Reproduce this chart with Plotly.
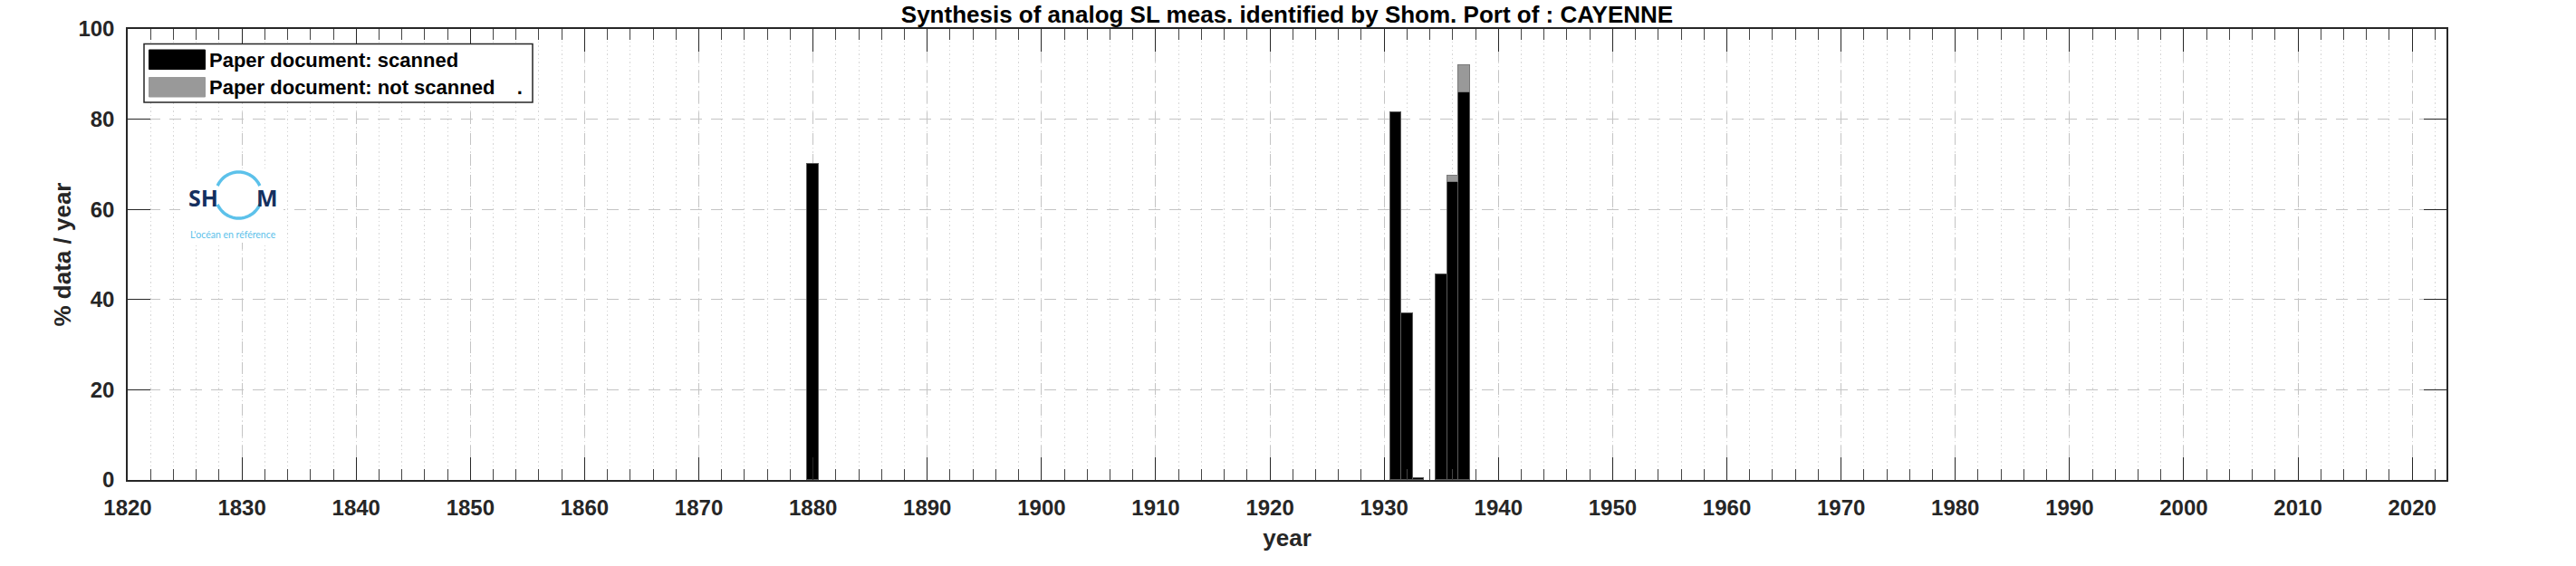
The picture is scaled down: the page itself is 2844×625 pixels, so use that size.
import numpy as np
import plotly.graph_objects as go

# ---------------- data ----------------
years = [1880, 1931, 1932, 1933, 1935, 1936, 1937]
scanned_pct = [70, 81.5, 37, 0.4, 45.5, 66, 86]
not_scanned_pct = [0, 0, 0, 0, 0, 1.5, 6]
x_tick_vals = list(range(1820, 2021, 10))
y_tick_vals = [0, 20, 40, 60, 80, 100]
series_names = ["Paper document: scanned", "Paper document: not scanned"]
title_text = "Synthesis of analog SL meas. identified by Shom. Port of : CAYENNE"

# ---------------- layout geometry (pixels) ----------------
W, H = 2844, 625
L, R, T, B = 141, 143, 32, 95
PW, PH = W - L - R, H - T - B


def px(x):
    return (x - L) / PW


def py(y):
    return (H - B - y) / PH


FONT = "Liberation Sans, Arial, Helvetica, sans-serif"
TXT = "#262626"
SCANNED_C = "#000000"
NOT_SCANNED_C = "#999999"

fig = go.Figure()
fig.add_trace(go.Bar(
    x=years, y=scanned_pct, width=1, name=series_names[0],
    marker=dict(color=SCANNED_C, line=dict(color="#5a5a5a", width=1)),
    showlegend=False,
))
fig.add_trace(go.Bar(
    x=years, y=[v if v else None for v in not_scanned_pct], width=1, name=series_names[1],
    marker=dict(color=NOT_SCANNED_C, line=dict(color="#7a7a7a", width=1)),
    showlegend=False,
))

grid_major = "#c4c4c4"
grid_minor = "#d6d6d6"

fig.update_layout(
    template="none",
    width=W, height=H, autosize=False,
    margin=dict(l=L, r=R, t=T, b=B, pad=0),
    paper_bgcolor="white", plot_bgcolor="white",
    barmode="stack", bargap=0,
    showlegend=False,
    font=dict(family=FONT, color=TXT),
    title=dict(
        text=title_text, x=px((L + W - R) / 2), xanchor="center",
        y=1 - 16 / H, yanchor="middle", yref="container", xref="paper",
        font=dict(family=FONT, size=26, color="#000000", weight="bold"),
    ),
    xaxis=dict(
        range=[1820, 2023], tickmode="array", tickvals=x_tick_vals,
        ticktext=[str(v) for v in x_tick_vals],
        ticks="inside", ticklen=25, tickwidth=1, tickcolor=TXT,
        showline=True, linecolor=TXT, linewidth=1.5, mirror="allticks",
        showgrid=True, gridcolor=grid_major, gridwidth=1, griddash="13px,10px",
        zeroline=False,
        tickfont=dict(family=FONT, size=24, color=TXT, weight="bold"),
        ticklabelstandoff=8,
        minor=dict(dtick=2, tick0=1820, ticks="inside", ticklen=12, tickwidth=1,
                   tickcolor="#444444", showgrid=True, gridcolor=grid_minor,
                   gridwidth=1, griddash="1.5px,3px"),
        title=dict(text="year", standoff=12,
                   font=dict(family=FONT, size=26, color=TXT, weight="bold")),
    ),
    yaxis=dict(
        range=[0, 100], tickmode="array", tickvals=y_tick_vals,
        ticks="inside", ticklen=25, tickwidth=1, tickcolor=TXT,
        showline=True, linecolor=TXT, linewidth=1.5, mirror="allticks",
        showgrid=True, gridcolor=grid_major, gridwidth=1, griddash="13px,10px",
        zeroline=False,
        tickfont=dict(family=FONT, size=24, color=TXT, weight="bold"),
        ticklabelstandoff=8,
        title=dict(text="% data / year", standoff=0,
                   font=dict(family=FONT, size=26, color=TXT, weight="bold")),
    ),
)

shapes = []
annotations = []

# ---------------- legend (drawn manually, MATLAB style) ----------------
shapes.append(dict(type="rect", xref="paper", yref="paper",
                   x0=px(159), x1=px(588), y0=py(113), y1=py(48.5),
                   line=dict(color=TXT, width=1.5), fillcolor="white", layer="above"))
leg_rows = [(55, 76.5, SCANNED_C, series_names[0]),
            (85.5, 107, NOT_SCANNED_C, series_names[1] + "\u00a0\u00a0\u00a0\u00a0.")]
for y0, y1, col, lab in leg_rows:
    shapes.append(dict(type="rect", xref="paper", yref="paper",
                       x0=px(164.5), x1=px(226.5), y0=py(y1), y1=py(y0),
                       line=dict(color=col, width=1), fillcolor=col, layer="above"))
    annotations.append(dict(xref="paper", yref="paper", x=px(229), y=py((y0 + y1) / 2 + 0.5),
                            xanchor="left", yanchor="middle", showarrow=False, text=lab,
                            font=dict(family=FONT, size=22, color="#000000", weight="bold")))

# ---------------- SHOM logo ----------------
shapes.append(dict(type="rect", xref="paper", yref="paper",
                   x0=px(199), x1=px(313), y0=py(268), y1=py(186),
                   line=dict(width=0), fillcolor="white", layer="above"))
cx, cy, rr = 263.5, 215.5, 25.5
ring_col = "#5cc1ea"
for a0, a1 in [(24, 156), (204, 336)]:
    ang = np.radians(np.linspace(a0, a1, 40))
    pts = [(px(cx + rr * np.cos(a)), py(cy - rr * np.sin(a))) for a in ang]
    path = "M " + " L ".join(f"{x:.6f},{y:.6f}" for x, y in pts)
    shapes.append(dict(type="path", xref="paper", yref="paper", path=path,
                       line=dict(color=ring_col, width=3.5), layer="above"))
annotations.append(dict(xref="paper", yref="paper", x=px(206), y=py(218),
                        xanchor="left", yanchor="middle", showarrow=False, text="SH",
                        font=dict(family="Open Sans, Lato, sans-serif", size=25,
                                  color="#15305f", weight="bold")))
annotations.append(dict(xref="paper", yref="paper", x=px(309), y=py(218),
                        xanchor="right", yanchor="middle", showarrow=False, text="M",
                        font=dict(family="Open Sans, Lato, sans-serif", size=25,
                                  color="#15305f", weight="bold")))
annotations.append(dict(xref="paper", yref="paper", x=px(257), y=py(259),
                        xanchor="center", yanchor="middle", showarrow=False,
                        text="L'océan en référence",
                        font=dict(family="Lato, Open Sans, sans-serif", size=10.5,
                                  color=ring_col)))

fig.update_layout(shapes=shapes, annotations=annotations)

fig.write_html("out.html", config={"displayModeBar": False},
               post_script="document.body.style.margin='0';")
